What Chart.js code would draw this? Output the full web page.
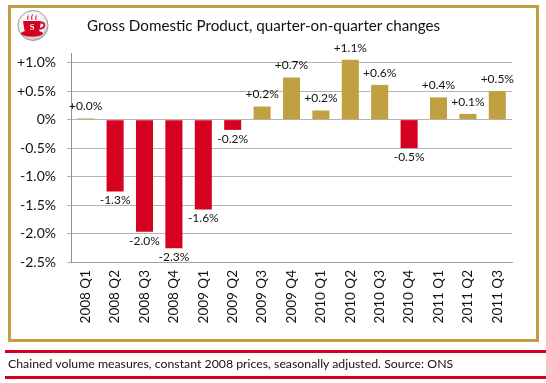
<!DOCTYPE html>
<html><head><meta charset="utf-8">
<script src="https://cdn.jsdelivr.net/npm/chart.js@4/dist/chart.umd.min.js"></script>
<style>
html,body{margin:0;padding:0;background:#fff;}
#wrap{position:relative;width:546px;height:383px;overflow:hidden;font-family:Lato,"Open Sans",sans-serif;}
#frame{position:absolute;left:8px;top:5px;width:525px;height:331px;border:3px solid #C0A040;}
#title{position:absolute;left:87px;top:16px;font-size:15.2px;color:#111;white-space:nowrap;}
#logo{position:absolute;left:17px;top:10px;}
#line1{position:absolute;left:5px;top:350px;width:541px;height:3px;background:#D60020;}
#line2{position:absolute;left:5px;top:376px;width:541px;height:3px;background:#D60020;}
#foot{position:absolute;left:8px;top:356px;font-size:12.3px;color:#111;white-space:nowrap;}
#c{position:absolute;left:0;top:0;}
</style></head>
<body><div id="wrap">
<div id="frame"></div>
<canvas id="c" width="546" height="383"></canvas>
<svg id="logo" width="32" height="31" viewBox="0 0 32 31">
<defs><radialGradient id="g" cx="45%" cy="40%" r="60%"><stop offset="0" stop-color="#ffffff"/><stop offset="0.75" stop-color="#f0f0f0"/><stop offset="1" stop-color="#b8b8b8"/></radialGradient></defs>
<circle cx="16" cy="15.5" r="15" fill="url(#g)" stroke="#9a9a9a" stroke-width="1"/>
<ellipse cx="15" cy="23.5" rx="11" ry="3.2" fill="#D60020"/>
<path d="M6 11 L24 11 L22.5 20.5 Q15 24.5 7.5 20.5 Z" fill="#D60020"/>
<path d="M23.5 12.5 Q28.5 12.5 27 16.8 Q25.5 19 22.8 18.6" fill="none" stroke="#D60020" stroke-width="1.8"/>
<path d="M11 10 Q10 8 11.5 5.5 M15 10 Q14 7 15.5 4.5 M19 10 Q18 8 19.5 5.5" fill="none" stroke="#D60020" stroke-width="1"/>
<text x="15" y="19.5" font-size="8.5" font-weight="bold" text-anchor="middle" fill="#fff" font-family="Liberation Serif,serif">S</text>
</svg>
<div id="title">Gross Domestic Product, quarter-on-quarter changes</div>
<div id="line1"></div>
<div id="foot">Chained volume measures, constant 2008 prices, seasonally adjusted. Source: ONS</div>
<div id="line2"></div>
</div>
<script>
const categories = ['2008 Q1','2008 Q2','2008 Q3','2008 Q4','2009 Q1','2009 Q2','2009 Q3','2009 Q4','2010 Q1','2010 Q2','2010 Q3','2010 Q4','2011 Q1','2011 Q2','2011 Q3'];
const values = [0.02, -1.26, -1.97, -2.26, -1.58, -0.18, 0.23, 0.74, 0.16, 1.05, 0.61, -0.50, 0.39, 0.10, 0.50];
const valueLabels = ['+0.0%','-1.3%','-2.0%','-2.3%','-1.6%','-0.2%','+0.2%','+0.7%','+0.2%','+1.1%','+0.6%','-0.5%','+0.4%','+0.1%','+0.5%'];
const yTickValues = [-2.5, -2.0, -1.5, -1.0, -0.5, 0, 0.5, 1.0];
const yTickLabels = ['-2.5%','-2.0%','-1.5%','-1.0%','-0.5%','0%','+0.5%','+1.0%'];

const GOLD = '#C0A040', RED = '#D60020';
const FONT = 'Lato, "Open Sans", sans-serif';

const labelPlugin = {
  id: 'barLabels',
  afterDatasetsDraw(chart) {
    const ctx = chart.ctx;
    const meta = chart.getDatasetMeta(0);
    ctx.save();
    ctx.font = '12px ' + FONT;
    ctx.fillStyle = '#111';
    ctx.textAlign = 'center';
    ctx.textBaseline = 'middle';
    meta.data.forEach((bar, i) => {
      const v = values[i];
      const y = v >= 0 ? bar.y - 12 : bar.y + 9;
      ctx.fillText(valueLabels[i], bar.x, y);
    });
    ctx.restore();
  }
};

new Chart(document.getElementById('c'), {
  type: 'bar',
  data: {
    labels: categories,
    datasets: [{
      data: values,
      backgroundColor: values.map(v => v >= 0 ? GOLD : RED),
      borderWidth: 0,
      barPercentage: 0.58,
      categoryPercentage: 1.0
    }]
  },
  options: {
    responsive: false,
    animation: false,
    devicePixelRatio: 1,
    layout: { padding: { top: 53, right: 34, left: 0, bottom: 0 } },
    plugins: { legend: { display: false }, tooltip: { enabled: false }, title: { display: false } },
    scales: {
      x: {
        grid: { display: false, drawTicks: false },
        border: { display: true, color: '#A0A0A0', width: 1 },
        ticks: { minRotation: 90, maxRotation: 90, padding: 8, color: '#111', font: { family: FONT, size: 13.5 } },
        afterFit(s) { s.height = 121; }
      },
      y: {
        min: -2.5,
        max: 1.17,
        afterBuildTicks(axis) { axis.ticks = yTickValues.map(v => ({ value: v })); },
        grid: { color: '#B4B4B4', tickLength: 4, drawTicks: true },
        border: { display: true, color: '#909090', width: 1 },
        ticks: {
          padding: 11,
          color: '#111',
          font: { family: FONT, size: 14 },
          callback(v) { const i = yTickValues.findIndex(t => Math.abs(t - v) < 1e-6); return i >= 0 ? yTickLabels[i] : ''; }
        },
        afterFit(s) { s.width = 71; }
      }
    }
  },
  plugins: [labelPlugin]
});
</script>
</body></html>
